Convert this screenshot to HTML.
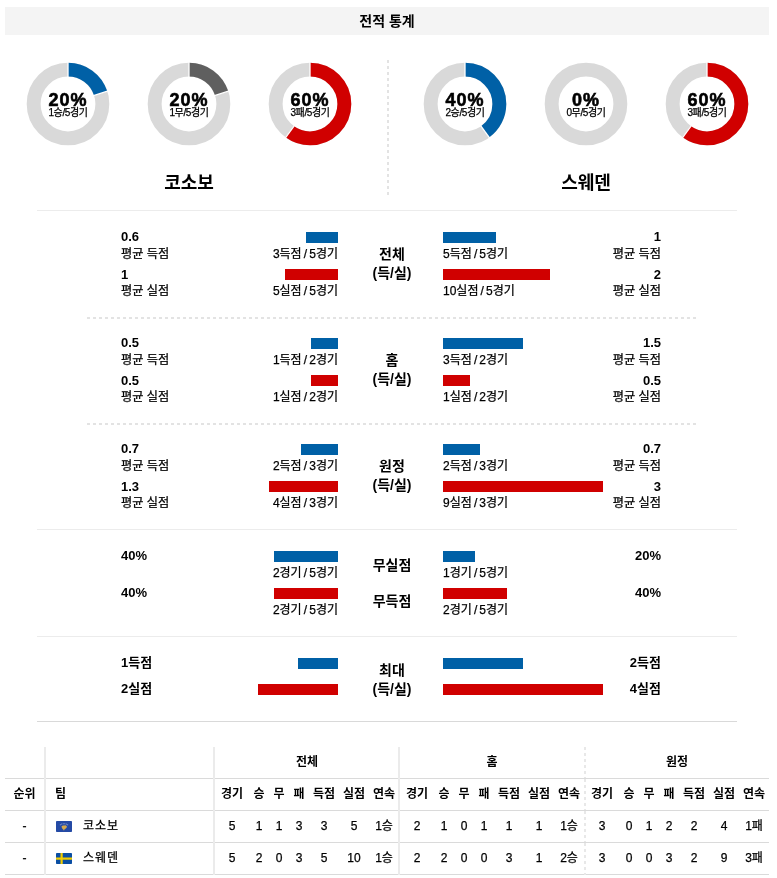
<!DOCTYPE html>
<html lang="ko"><head><meta charset="utf-8"><title>전적 통계</title>
<style>
html,body{margin:0;padding:0;background:#fff;}
body{width:777px;height:878px;position:relative;overflow:hidden;font-family:'Liberation Sans','Noto Sans CJK KR',sans-serif;color:#000;}
.t{position:absolute;white-space:nowrap;line-height:1;}
.r{position:absolute;}
.d{position:absolute;}
.hdr{position:absolute;left:5px;top:7px;width:764px;height:28px;background:#f4f4f4;text-align:center;font-weight:bold;font-size:14px;line-height:28px;}
.big{font-weight:bold;font-size:18px;letter-spacing:1px;-webkit-text-stroke:0.6px #000;}
.small{font-size:10px;letter-spacing:-0.4px;-webkit-text-stroke:0.25px #000;}
.team{font-weight:bold;font-size:18px;}
.val{font-weight:bold;font-size:13px;}
.lab{font-size:12.2px;-webkit-text-stroke:0.25px #000;}
.cap{font-size:12px;word-spacing:-1.2px;-webkit-text-stroke:0.25px #000;}
.ctr{font-weight:bold;font-size:14px;line-height:19px;text-align:center;}
.hl{position:absolute;height:1px;}
.dash{position:absolute;height:2px;background:repeating-linear-gradient(90deg,#e3e3e3 0 3px,transparent 3px 6px);}
.vdash{position:absolute;width:2px;background:repeating-linear-gradient(180deg,#e3e3e3 0 3px,transparent 3px 6px);}
.c{position:absolute;white-space:nowrap;text-align:center;}
.th{font-weight:bold;font-size:12px;}
.td{font-size:12px;-webkit-text-stroke:0.25px #000;}
.tn{letter-spacing:1px;}
</style></head><body>
<div class="hdr">전적 통계</div>

<svg class="d" style="left:26px;top:62px" width="84" height="84" viewBox="-42 -42 84 84"><circle r="34.35" fill="none" stroke="#d9d9d9" stroke-width="13.9"/><circle r="34.35" fill="none" stroke="#0060a6" stroke-width="13.9" stroke-dasharray="43.165 215.827" transform="rotate(-90)"/><line x1="0.00" y1="-26.00" x2="0.00" y2="-43.00" stroke="#fff" stroke-width="1.3"/><line x1="24.73" y1="-8.03" x2="40.90" y2="-13.29" stroke="#fff" stroke-width="1.3"/></svg>
<div class="t big" style="left:28.0px;width:80px;text-align:center;top:90.5px;">20%</div>
<div class="t small" style="left:28.0px;width:80px;text-align:center;top:107.5px;">1승/5경기</div>
<svg class="d" style="left:147px;top:62px" width="84" height="84" viewBox="-42 -42 84 84"><circle r="34.35" fill="none" stroke="#d9d9d9" stroke-width="13.9"/><circle r="34.35" fill="none" stroke="#5f5f5f" stroke-width="13.9" stroke-dasharray="43.165 215.827" transform="rotate(-90)"/><line x1="0.00" y1="-26.00" x2="0.00" y2="-43.00" stroke="#fff" stroke-width="1.3"/><line x1="24.73" y1="-8.03" x2="40.90" y2="-13.29" stroke="#fff" stroke-width="1.3"/></svg>
<div class="t big" style="left:149.0px;width:80px;text-align:center;top:90.5px;">20%</div>
<div class="t small" style="left:149.0px;width:80px;text-align:center;top:107.5px;">1무/5경기</div>
<svg class="d" style="left:268px;top:62px" width="84" height="84" viewBox="-42 -42 84 84"><circle r="34.35" fill="none" stroke="#d9d9d9" stroke-width="13.9"/><circle r="34.35" fill="none" stroke="#d00000" stroke-width="13.9" stroke-dasharray="129.496 215.827" transform="rotate(-90)"/><line x1="0.00" y1="-26.00" x2="0.00" y2="-43.00" stroke="#fff" stroke-width="1.3"/><line x1="-15.28" y1="21.03" x2="-25.27" y2="34.79" stroke="#fff" stroke-width="1.3"/></svg>
<div class="t big" style="left:270.0px;width:80px;text-align:center;top:90.5px;">60%</div>
<div class="t small" style="left:270.0px;width:80px;text-align:center;top:107.5px;">3패/5경기</div>
<svg class="d" style="left:423px;top:62px" width="84" height="84" viewBox="-42 -42 84 84"><circle r="34.35" fill="none" stroke="#d9d9d9" stroke-width="13.9"/><circle r="34.35" fill="none" stroke="#0060a6" stroke-width="13.9" stroke-dasharray="86.331 215.827" transform="rotate(-90)"/><line x1="0.00" y1="-26.00" x2="0.00" y2="-43.00" stroke="#fff" stroke-width="1.3"/><line x1="15.28" y1="21.03" x2="25.27" y2="34.79" stroke="#fff" stroke-width="1.3"/></svg>
<div class="t big" style="left:425.0px;width:80px;text-align:center;top:90.5px;">40%</div>
<div class="t small" style="left:425.0px;width:80px;text-align:center;top:107.5px;">2승/5경기</div>
<svg class="d" style="left:544px;top:62px" width="84" height="84" viewBox="-42 -42 84 84"><circle r="34.35" fill="none" stroke="#d9d9d9" stroke-width="13.9"/></svg>
<div class="t big" style="left:546.0px;width:80px;text-align:center;top:90.5px;">0%</div>
<div class="t small" style="left:546.0px;width:80px;text-align:center;top:107.5px;">0무/5경기</div>
<svg class="d" style="left:665px;top:62px" width="84" height="84" viewBox="-42 -42 84 84"><circle r="34.35" fill="none" stroke="#d9d9d9" stroke-width="13.9"/><circle r="34.35" fill="none" stroke="#d00000" stroke-width="13.9" stroke-dasharray="129.496 215.827" transform="rotate(-90)"/><line x1="0.00" y1="-26.00" x2="0.00" y2="-43.00" stroke="#fff" stroke-width="1.3"/><line x1="-15.28" y1="21.03" x2="-25.27" y2="34.79" stroke="#fff" stroke-width="1.3"/></svg>
<div class="t big" style="left:667.0px;width:80px;text-align:center;top:90.5px;">60%</div>
<div class="t small" style="left:667.0px;width:80px;text-align:center;top:107.5px;">3패/5경기</div>
<div class="vdash" style="left:387px;top:60px;height:135px"></div>
<div class="t team" style="left:129.0px;width:120px;text-align:center;top:174px;">코소보</div>
<div class="t team" style="left:526.0px;width:120px;text-align:center;top:174px;">스웨덴</div>
<div class="hl" style="left:37px;top:210px;width:700px;background:#ececec"></div>
<div class="t val" style="left:121px;top:230px;">0.6</div>
<div class="t lab" style="left:121px;top:247.5px;">평균 득점</div>
<div class="t val" style="left:121px;top:267.5px;">1</div>
<div class="t lab" style="left:121px;top:284.5px;">평균 실점</div>
<div class="t val" style="right:116px;top:230px;">1</div>
<div class="t lab" style="right:116px;top:247.5px;">평균 득점</div>
<div class="t val" style="right:116px;top:267.5px;">2</div>
<div class="t lab" style="right:116px;top:284.5px;">평균 실점</div>
<div class="r" style="left:306px;top:232px;width:32px;height:11px;background:#0060a6"></div>
<div class="r" style="left:284.7px;top:269px;width:53.3px;height:11px;background:#d00000"></div>
<div class="r" style="left:443px;top:232px;width:53.3px;height:11px;background:#0060a6"></div>
<div class="r" style="left:443px;top:269px;width:106.7px;height:11px;background:#d00000"></div>
<div class="t cap" style="right:439px;top:248px;">3득점 / 5경기</div>
<div class="t cap" style="right:439px;top:285px;">5실점 / 5경기</div>
<div class="t cap" style="left:443px;top:248px;">5득점 / 5경기</div>
<div class="t cap" style="left:443px;top:285px;">10실점 / 5경기</div>
<div class="t ctr" style="left:342px;width:100px;top:245px">전체<br>(득/실)</div>
<div class="dash" style="left:87px;top:317px;width:609px"></div>
<div class="t val" style="left:121px;top:336px;">0.5</div>
<div class="t lab" style="left:121px;top:353.5px;">평균 득점</div>
<div class="t val" style="left:121px;top:373.5px;">0.5</div>
<div class="t lab" style="left:121px;top:390.5px;">평균 실점</div>
<div class="t val" style="right:116px;top:336px;">1.5</div>
<div class="t lab" style="right:116px;top:353.5px;">평균 득점</div>
<div class="t val" style="right:116px;top:373.5px;">0.5</div>
<div class="t lab" style="right:116px;top:390.5px;">평균 실점</div>
<div class="r" style="left:311.3px;top:338px;width:26.7px;height:11px;background:#0060a6"></div>
<div class="r" style="left:311.3px;top:375px;width:26.7px;height:11px;background:#d00000"></div>
<div class="r" style="left:443px;top:338px;width:80px;height:11px;background:#0060a6"></div>
<div class="r" style="left:443px;top:375px;width:26.7px;height:11px;background:#d00000"></div>
<div class="t cap" style="right:439px;top:354px;">1득점 / 2경기</div>
<div class="t cap" style="right:439px;top:391px;">1실점 / 2경기</div>
<div class="t cap" style="left:443px;top:354px;">3득점 / 2경기</div>
<div class="t cap" style="left:443px;top:391px;">1실점 / 2경기</div>
<div class="t ctr" style="left:342px;width:100px;top:351px">홈<br>(득/실)</div>
<div class="dash" style="left:87px;top:423px;width:609px"></div>
<div class="t val" style="left:121px;top:442px;">0.7</div>
<div class="t lab" style="left:121px;top:459.5px;">평균 득점</div>
<div class="t val" style="left:121px;top:479.5px;">1.3</div>
<div class="t lab" style="left:121px;top:496.5px;">평균 실점</div>
<div class="t val" style="right:116px;top:442px;">0.7</div>
<div class="t lab" style="right:116px;top:459.5px;">평균 득점</div>
<div class="t val" style="right:116px;top:479.5px;">3</div>
<div class="t lab" style="right:116px;top:496.5px;">평균 실점</div>
<div class="r" style="left:300.7px;top:444px;width:37.3px;height:11px;background:#0060a6"></div>
<div class="r" style="left:268.7px;top:481px;width:69.3px;height:11px;background:#d00000"></div>
<div class="r" style="left:443px;top:444px;width:37.3px;height:11px;background:#0060a6"></div>
<div class="r" style="left:443px;top:481px;width:160px;height:11px;background:#d00000"></div>
<div class="t cap" style="right:439px;top:460px;">2득점 / 3경기</div>
<div class="t cap" style="right:439px;top:497px;">4실점 / 3경기</div>
<div class="t cap" style="left:443px;top:460px;">2득점 / 3경기</div>
<div class="t cap" style="left:443px;top:497px;">9실점 / 3경기</div>
<div class="t ctr" style="left:342px;width:100px;top:457px">원정<br>(득/실)</div>
<div class="hl" style="left:37px;top:529px;width:700px;background:#ececec"></div>
<div class="t val" style="left:121px;top:549px;">40%</div>
<div class="t val" style="left:121px;top:586px;">40%</div>
<div class="t val" style="right:116px;top:549px;">20%</div>
<div class="t val" style="right:116px;top:586px;">40%</div>
<div class="r" style="left:274px;top:551px;width:64px;height:11px;background:#0060a6"></div>
<div class="r" style="left:274px;top:588px;width:64px;height:11px;background:#d00000"></div>
<div class="r" style="left:443px;top:551px;width:32px;height:11px;background:#0060a6"></div>
<div class="r" style="left:443px;top:588px;width:64px;height:11px;background:#d00000"></div>
<div class="t cap" style="right:439px;top:567px;">2경기 / 5경기</div>
<div class="t cap" style="right:439px;top:604px;">2경기 / 5경기</div>
<div class="t cap" style="left:443px;top:567px;">1경기 / 5경기</div>
<div class="t cap" style="left:443px;top:604px;">2경기 / 5경기</div>
<div class="t ctr" style="left:342px;width:100px;top:556px">무실점</div>
<div class="t ctr" style="left:342px;width:100px;top:592px">무득점</div>
<div class="hl" style="left:37px;top:636px;width:700px;background:#ececec"></div>
<div class="t val" style="left:121px;top:656px;">1득점</div>
<div class="t val" style="left:121px;top:682px;">2실점</div>
<div class="t val" style="right:116px;top:656px;">2득점</div>
<div class="t val" style="right:116px;top:682px;">4실점</div>
<div class="r" style="left:298px;top:658px;width:40px;height:11px;background:#0060a6"></div>
<div class="r" style="left:258px;top:684px;width:80px;height:11px;background:#d00000"></div>
<div class="r" style="left:443px;top:658px;width:80px;height:11px;background:#0060a6"></div>
<div class="r" style="left:443px;top:684px;width:160px;height:11px;background:#d00000"></div>
<div class="t ctr" style="left:342px;width:100px;top:661px">최대<br>(득/실)</div>
<div class="hl" style="left:37px;top:721px;width:700px;background:#d9d9d9"></div>
<div class="hl" style="left:5px;top:778px;width:764px;background:#dadada"></div>
<div class="hl" style="left:5px;top:810px;width:764px;background:#dadada"></div>
<div class="hl" style="left:5px;top:842px;width:764px;background:#dadada"></div>
<div class="hl" style="left:5px;top:874px;width:764px;background:#dadada"></div>
<div class="r" style="left:44px;top:747px;width:2px;height:128px;background:#ebebeb"></div>
<div class="r" style="left:213px;top:747px;width:2px;height:128px;background:#ebebeb"></div>
<div class="r" style="left:398px;top:747px;width:2px;height:128px;background:#ebebeb"></div>
<div class="vdash" style="left:584px;top:747px;height:31px;background:repeating-linear-gradient(180deg,#e8e8e8 0 3px,transparent 3px 6px)"></div>
<div class="vdash" style="left:584px;top:779px;height:31px;background:repeating-linear-gradient(180deg,#e8e8e8 0 3px,transparent 3px 6px)"></div>
<div class="vdash" style="left:584px;top:811px;height:31px;background:repeating-linear-gradient(180deg,#e8e8e8 0 3px,transparent 3px 6px)"></div>
<div class="vdash" style="left:584px;top:843px;height:32px;background:repeating-linear-gradient(180deg,#e8e8e8 0 3px,transparent 3px 6px)"></div>
<div class="c th" style="left:215px;width:184px;top:747px;height:31px;line-height:31px">전체</div>
<div class="c th" style="left:215px;width:34px;top:778px;height:32px;line-height:32px">경기</div>
<div class="c th" style="left:249px;width:20px;top:778px;height:32px;line-height:32px">승</div>
<div class="c th" style="left:269px;width:20px;top:778px;height:32px;line-height:32px">무</div>
<div class="c th" style="left:289px;width:20px;top:778px;height:32px;line-height:32px">패</div>
<div class="c th" style="left:309px;width:30px;top:778px;height:32px;line-height:32px">득점</div>
<div class="c th" style="left:339px;width:30px;top:778px;height:32px;line-height:32px">실점</div>
<div class="c th" style="left:369px;width:30px;top:778px;height:32px;line-height:32px">연속</div>
<div class="c th" style="left:400px;width:184px;top:747px;height:31px;line-height:31px">홈</div>
<div class="c th" style="left:400px;width:34px;top:778px;height:32px;line-height:32px">경기</div>
<div class="c th" style="left:434px;width:20px;top:778px;height:32px;line-height:32px">승</div>
<div class="c th" style="left:454px;width:20px;top:778px;height:32px;line-height:32px">무</div>
<div class="c th" style="left:474px;width:20px;top:778px;height:32px;line-height:32px">패</div>
<div class="c th" style="left:494px;width:30px;top:778px;height:32px;line-height:32px">득점</div>
<div class="c th" style="left:524px;width:30px;top:778px;height:32px;line-height:32px">실점</div>
<div class="c th" style="left:554px;width:30px;top:778px;height:32px;line-height:32px">연속</div>
<div class="c th" style="left:585px;width:184px;top:747px;height:31px;line-height:31px">원정</div>
<div class="c th" style="left:585px;width:34px;top:778px;height:32px;line-height:32px">경기</div>
<div class="c th" style="left:619px;width:20px;top:778px;height:32px;line-height:32px">승</div>
<div class="c th" style="left:639px;width:20px;top:778px;height:32px;line-height:32px">무</div>
<div class="c th" style="left:659px;width:20px;top:778px;height:32px;line-height:32px">패</div>
<div class="c th" style="left:679px;width:30px;top:778px;height:32px;line-height:32px">득점</div>
<div class="c th" style="left:709px;width:30px;top:778px;height:32px;line-height:32px">실점</div>
<div class="c th" style="left:739px;width:30px;top:778px;height:32px;line-height:32px">연속</div>
<div class="c th" style="left:5px;width:39px;top:778px;height:32px;line-height:32px">순위</div>
<div class="c th" style="left:55px;top:778px;height:32px;line-height:32px">팀</div>
<div class="c td" style="left:5px;width:39px;top:810px;height:32px;line-height:32px">-</div>
<div class="c td tn" style="left:83px;top:810px;height:32px;line-height:32px">코소보</div>
<div class="c td" style="left:215px;width:34px;top:810px;height:32px;line-height:32px">5</div>
<div class="c td" style="left:249px;width:20px;top:810px;height:32px;line-height:32px">1</div>
<div class="c td" style="left:269px;width:20px;top:810px;height:32px;line-height:32px">1</div>
<div class="c td" style="left:289px;width:20px;top:810px;height:32px;line-height:32px">3</div>
<div class="c td" style="left:309px;width:30px;top:810px;height:32px;line-height:32px">3</div>
<div class="c td" style="left:339px;width:30px;top:810px;height:32px;line-height:32px">5</div>
<div class="c td" style="left:369px;width:30px;top:810px;height:32px;line-height:32px">1승</div>
<div class="c td" style="left:400px;width:34px;top:810px;height:32px;line-height:32px">2</div>
<div class="c td" style="left:434px;width:20px;top:810px;height:32px;line-height:32px">1</div>
<div class="c td" style="left:454px;width:20px;top:810px;height:32px;line-height:32px">0</div>
<div class="c td" style="left:474px;width:20px;top:810px;height:32px;line-height:32px">1</div>
<div class="c td" style="left:494px;width:30px;top:810px;height:32px;line-height:32px">1</div>
<div class="c td" style="left:524px;width:30px;top:810px;height:32px;line-height:32px">1</div>
<div class="c td" style="left:554px;width:30px;top:810px;height:32px;line-height:32px">1승</div>
<div class="c td" style="left:585px;width:34px;top:810px;height:32px;line-height:32px">3</div>
<div class="c td" style="left:619px;width:20px;top:810px;height:32px;line-height:32px">0</div>
<div class="c td" style="left:639px;width:20px;top:810px;height:32px;line-height:32px">1</div>
<div class="c td" style="left:659px;width:20px;top:810px;height:32px;line-height:32px">2</div>
<div class="c td" style="left:679px;width:30px;top:810px;height:32px;line-height:32px">2</div>
<div class="c td" style="left:709px;width:30px;top:810px;height:32px;line-height:32px">4</div>
<div class="c td" style="left:739px;width:30px;top:810px;height:32px;line-height:32px">1패</div>
<div class="c td" style="left:5px;width:39px;top:842px;height:32px;line-height:32px">-</div>
<div class="c td tn" style="left:83px;top:842px;height:32px;line-height:32px">스웨덴</div>
<div class="c td" style="left:215px;width:34px;top:842px;height:32px;line-height:32px">5</div>
<div class="c td" style="left:249px;width:20px;top:842px;height:32px;line-height:32px">2</div>
<div class="c td" style="left:269px;width:20px;top:842px;height:32px;line-height:32px">0</div>
<div class="c td" style="left:289px;width:20px;top:842px;height:32px;line-height:32px">3</div>
<div class="c td" style="left:309px;width:30px;top:842px;height:32px;line-height:32px">5</div>
<div class="c td" style="left:339px;width:30px;top:842px;height:32px;line-height:32px">10</div>
<div class="c td" style="left:369px;width:30px;top:842px;height:32px;line-height:32px">1승</div>
<div class="c td" style="left:400px;width:34px;top:842px;height:32px;line-height:32px">2</div>
<div class="c td" style="left:434px;width:20px;top:842px;height:32px;line-height:32px">2</div>
<div class="c td" style="left:454px;width:20px;top:842px;height:32px;line-height:32px">0</div>
<div class="c td" style="left:474px;width:20px;top:842px;height:32px;line-height:32px">0</div>
<div class="c td" style="left:494px;width:30px;top:842px;height:32px;line-height:32px">3</div>
<div class="c td" style="left:524px;width:30px;top:842px;height:32px;line-height:32px">1</div>
<div class="c td" style="left:554px;width:30px;top:842px;height:32px;line-height:32px">2승</div>
<div class="c td" style="left:585px;width:34px;top:842px;height:32px;line-height:32px">3</div>
<div class="c td" style="left:619px;width:20px;top:842px;height:32px;line-height:32px">0</div>
<div class="c td" style="left:639px;width:20px;top:842px;height:32px;line-height:32px">0</div>
<div class="c td" style="left:659px;width:20px;top:842px;height:32px;line-height:32px">3</div>
<div class="c td" style="left:679px;width:30px;top:842px;height:32px;line-height:32px">2</div>
<div class="c td" style="left:709px;width:30px;top:842px;height:32px;line-height:32px">9</div>
<div class="c td" style="left:739px;width:30px;top:842px;height:32px;line-height:32px">3패</div>
<svg class="d" style="left:56px;top:821px" width="16" height="11" viewBox="0 0 16 11"><rect width="16" height="11" rx="0.8" fill="#244aa5"/><path d="M5.4 5.4 L6.8 4.4 L8.2 4.6 L9.4 4.2 L10.9 5.2 L10.6 6.8 L9.4 7.8 L8.4 8.4 L8 9.8 L7.2 8.6 L6.2 7.6 Z" fill="#d4a94f"/><g fill="#aab6e0"><circle cx="4.3" cy="3.8" r="0.5"/><circle cx="5.7" cy="3.1" r="0.5"/><circle cx="7.2" cy="2.8" r="0.5"/><circle cx="8.8" cy="2.8" r="0.5"/><circle cx="10.3" cy="3.1" r="0.5"/><circle cx="11.7" cy="3.8" r="0.5"/></g></svg>
<svg class="d" style="left:56px;top:853px" width="16" height="11" viewBox="0 0 16 11"><rect width="16" height="11" rx="0.8" fill="#0a4ea3"/><rect x="4.5" width="2.2" height="11" fill="#f2cd00"/><rect y="4.5" width="16" height="2.2" fill="#f2cd00"/></svg>
</body></html>
